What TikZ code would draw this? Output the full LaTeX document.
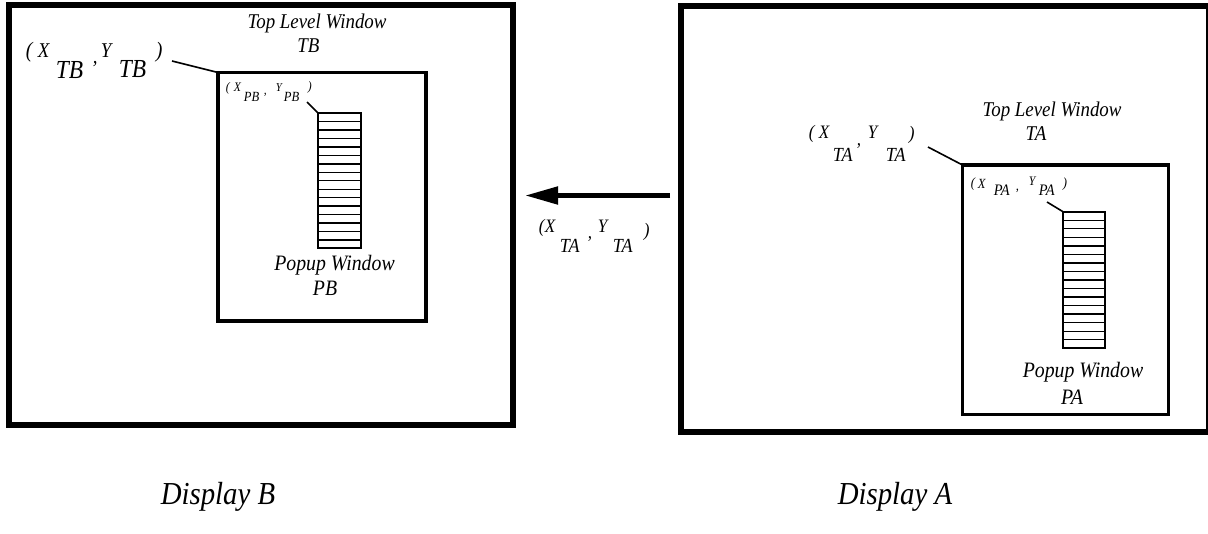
\documentclass[tikz,border=0pt]{standalone}
\usepackage{fontspec}
\setmainfont[FakeStretch=0.9]{Liberation Serif}
\usetikzlibrary{arrows.meta,calc}
\newcommand\fpx[1]{\fontsize{\fpeval{#1*0.75}pt}{\fpeval{#1*0.9}pt}\selectfont}
\newcommand\pc[4]{\rlap{\hspace*{\fpeval{(#1)*0.75}pt}\raisebox{\fpeval{-(#2)*0.75}pt}{\fpx{#3}#4}}}
\begin{document}
\begin{tikzpicture}[x=0.75pt,y=-0.75pt,
  outerbox/.style={draw, line width=4.5pt, inner sep=0pt, outer sep=0pt},
  winbox/.style={draw, line width=2.5pt, inner sep=0pt, outer sep=0pt},
  popbox/.style={draw, line width=1.4pt, inner sep=0pt, outer sep=0pt},
  stripe/.style={line width=1pt},
  leader/.style={line width=1.2pt},
  bigarrow/.style={line width=3.75pt, -{Triangle[length=24.75pt,width=12.75pt]}},
  lbl/.style={anchor=base west, inner sep=0pt, font=\itshape},
  txt/.style={anchor=base, inner sep=0pt, font={\itshape\fpx{21}}},
  ptxt/.style={anchor=base, inner sep=0pt, font={\itshape\fpx{22}}},
  dtxt/.style={anchor=base, inner sep=0pt, font={\itshape\fpx{32}}}]
\useasboundingbox (0,0) rectangle (1208,533);

% Display B
\node[outerbox, minimum width=378pt, minimum height=315.375pt] (dispB) at (261,214.75) {};
\node[winbox, minimum width=156pt, minimum height=186.375pt] (tbbox) at (322,196.75) {};
\node[popbox, minimum width=31.95pt, minimum height=101.325pt] (pbbox) at (339.5,180.75) {};
\foreach \i in {1,...,15}
  \draw[stripe] ($(pbbox.north west)!\i/16!(pbbox.south west)$) -- ($(pbbox.north east)!\i/16!(pbbox.south east)$);

% Display A
\node[outerbox, minimum width=396.375pt, minimum height=319.275pt] (dispA) at (944.75,219.15) {};
\node[winbox, minimum width=154.35pt, minimum height=186.975pt] (tabox) at (1065.4,289.65) {};
\node[popbox, minimum width=31.5pt, minimum height=102.45pt] (pabox) at (1084,280) {};
\foreach \i in {1,...,15}
  \draw[stripe] ($(pabox.north west)!\i/16!(pabox.south west)$) -- ($(pabox.north east)!\i/16!(pabox.south east)$);

% titles
\node[txt] (tTB1) at (317,28) {Top Level Window};
\node[txt] (tTB2) at (308.5,52) {TB};
\node[ptxt] (pPB1) at (334.5,270) {Popup Window};
\node[ptxt] (pPB2) at (325,295) {PB};
\node[txt] (tTA1) at (1052,116) {Top Level Window};
\node[txt] (tTA2) at (1036,140) {TA};
\node[ptxt] (pPA1) at (1083,377) {Popup Window};
\node[ptxt] (pPA2) at (1072,404) {PA};
\node[dtxt] (dB) at (218,504) {Display B};
\node[dtxt] (dA) at (895,504) {Display A};

% coordinate labels
\node[lbl] (lTB) at (25,57) {\pc{0}{0}{22}{(}\pc{12}{0}{21}{X}\pc{30}{21}{26}{TB}\pc{67}{6}{21}{,}\pc{75}{0}{21}{Y}\pc{93}{20}{26}{TB}\pc{130}{0}{22}{)}};
\node[lbl] (lPB) at (225,91.5) {\pc{0}{0}{13}{(}\pc{8}{0}{13}{X}\pc{18}{10}{14}{PB}\pc{38}{3}{13}{,}\pc{50}{0}{12}{Y}\pc{58}{10}{14}{PB}\pc{82}{-1}{13}{)}};
\node[lbl] (lTA) at (808,138) {\pc{0}{0}{19}{(}\pc{10}{0}{19}{X}\pc{24}{23}{20}{TA}\pc{48}{7}{19}{,}\pc{59}{0}{19}{Y}\pc{77}{23}{20}{TA}\pc{100}{1}{19}{)}};
\node[lbl] (lPA) at (970,187) {\pc{0}{0}{14}{(}\pc{7}{1}{14}{X}\pc{23}{8}{16}{PA}\pc{45}{3}{14}{,}\pc{58}{-2}{13}{Y}\pc{68}{8}{16}{PA}\pc{92}{0}{14}{)}};
\node[lbl] (lAR) at (538,232) {\pc{0}{0}{19}{(}\pc{6}{0}{19}{X}\pc{21}{20}{20}{TA}\pc{49}{6}{19}{,}\pc{59}{0}{19}{Y}\pc{74}{20}{20}{TA}\pc{105}{4}{19}{)}};

% leaders
\coordinate (cTB) at (172,61);
\coordinate (cPB) at (307,102);
\coordinate (cTA) at (928,147);
\coordinate (cPA) at (1047,202);
\draw[leader] (cTB) -- (tbbox.north west);
\draw[leader] (cPB) -- (pbbox.north west);
\draw[leader] (cTA) -- (tabox.north west);
\draw[leader] (cPA) -- (pabox.north west);

% arrow
\coordinate (ay) at (600,195.5);
\draw[bigarrow, shorten <=7.875pt, shorten >=9pt] (dispA.west |- ay) -- (dispB.east |- ay);
\end{tikzpicture}
\end{document}
